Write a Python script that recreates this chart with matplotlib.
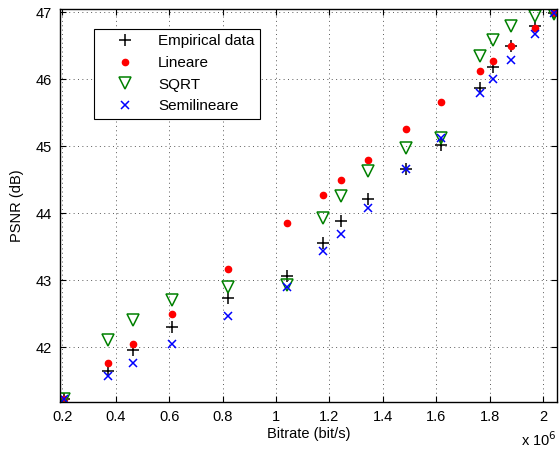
import numpy as np
import matplotlib
matplotlib.use('Agg')
import matplotlib.pyplot as plt

plt.rcParams['font.family'] = ['Liberation Sans', 'DejaVu Sans']

# bitrate in units of 1e6 bit/s
bitrate = [0.206, 0.371, 0.466, 0.609, 0.822, 1.041, 1.175, 1.244,
           1.344, 1.487, 1.616, 1.765, 1.813, 1.881, 1.968, 2.041]

empirical = [41.23, 41.65, 41.96, 42.30, 42.73, 43.06, 43.56, 43.88,
             44.21, 44.66, 45.02, 45.87, 46.18, 46.49, 46.79, 46.99]
lineare = [41.23, 41.76, 42.05, 42.50, 43.17, 43.86, 44.27, 44.49,
           44.80, 45.25, 45.66, 46.13, 46.28, 46.49, 46.76, 46.99]
sqrt_m = [41.23, 42.11, 42.41, 42.71, 42.90, 42.92, 43.93, 44.26,
          44.63, 44.97, 45.13, 46.35, 46.58, 46.80, 46.94, 46.97]
semilin = [41.23, 41.57, 41.76, 42.04, 42.47, 42.90, 43.44, 43.69,
           44.07, 44.66, 45.13, 45.79, 46.00, 46.29, 46.68, 46.99]

xticks = [0.2, 0.4, 0.6, 0.8, 1, 1.2, 1.4, 1.6, 1.8, 2]
xticklabels = ['0.2', '0.4', '0.6', '0.8', '1', '1.2', '1.4', '1.6', '1.8', '2']
yticks = [42, 43, 44, 45, 46, 47]

fig = plt.figure(figsize=(5.6, 4.53), dpi=100)
ax = fig.add_axes([0.107, 0.1126, 0.8876, 0.8669])

ax.plot(bitrate, empirical, '+', color='k', markersize=9, markeredgewidth=1.1, label='Empirical data')
ax.plot(bitrate, lineare, 'o', color='r', markersize=4.5, label='Lineare')
ax.plot(bitrate, sqrt_m, 'v', markerfacecolor='none', markeredgecolor=(0, 0.5, 0),
        markersize=9, markeredgewidth=1.1, label='SQRT')
ax.plot(bitrate, semilin, 'x', color='b', markersize=6, markeredgewidth=1.1, label='Semilineare')

ax.set_xlim(0.191, 2.052)
ax.set_ylim(41.18, 47.045)
ax.set_xticks(xticks)
ax.set_xticklabels(xticklabels)
ax.set_yticks(yticks)
ax.tick_params(direction='in', top=True, right=True, length=4, labelsize=10.5, pad=6)
ax.grid(True, linestyle=(0, (1, 3.5)), color='0.35', linewidth=0.7)
for s in ax.spines.values():
    s.set_linewidth(1.0)

ax.set_xlabel('Bitrate (bit/s)', fontsize=10.5, labelpad=2)
ax.set_ylabel('PSNR (dB)', fontsize=10.5, labelpad=8)
ax.text(1.0, -0.112, r'x 10$^{6}$', transform=ax.transAxes, ha='right', va='baseline', fontsize=10.5)

leg = ax.legend(loc='upper left', bbox_to_anchor=(0.068, 0.950), fontsize=11,
                fancybox=False, edgecolor='k', framealpha=1, borderpad=0.35,
                handlelength=3.4, handletextpad=0.45, labelspacing=0.5, borderaxespad=0)
leg.get_frame().set_linewidth(0.8)

fig.savefig('out.png', dpi=100)
